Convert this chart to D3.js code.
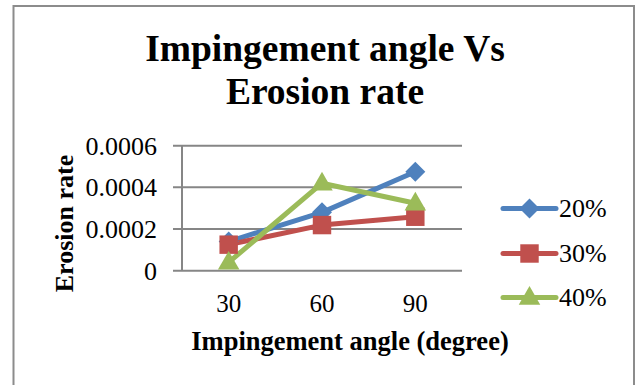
<!DOCTYPE html>
<html><head><meta charset="utf-8">
<script src="https://cdn.jsdelivr.net/npm/d3@7/dist/d3.min.js"></script>
<style>html,body{margin:0;padding:0;background:#fff;}svg{display:block;}</style>
</head><body>
<svg id="chart" width="638" height="385"></svg>
<script>
const categories = ["30", "60", "90"];
const seriesNames = ["20%", "30%", "40%"];
const values20 = [0.00014, 0.00028, 0.000475];
const values30 = [0.000125, 0.000219, 0.000259];
const values40 = [0.00004, 0.00042, 0.000324];
const yTicks = [0, 0.0002, 0.0004, 0.0006];
const yTickLabels = ["0", "0.0002", "0.0004", "0.0006"];
const titleLines = ["Impingement angle Vs", "Erosion rate"];
const xTitle = "Impingement angle (degree)";
const yTitle = "Erosion rate";

// square diamond (equal diagonals), like Excel's marker
const symbolSquareDiamond = {
  draw(context, size) {
    const r = Math.sqrt(size / 2);
    context.moveTo(0, -r); context.lineTo(r, 0); context.lineTo(0, r); context.lineTo(-r, 0); context.closePath();
  }
};

const colors = ["#4f81bd", "#c0504d", "#9bbb59"];
const shapes = [symbolSquareDiamond, d3.symbolSquare, d3.symbolTriangle];
const series = seriesNames.map((n, i) => ({name: n, values: [values20, values30, values40][i], color: colors[i], shape: shapes[i]}));

const font = "'Liberation Serif','Times New Roman',serif";
const svg = d3.select("#chart");

// outer border
svg.append("rect").attr("x", 13.5).attr("y", 6).attr("width", 620.5).attr("height", 400)
  .attr("fill", "#fff").attr("stroke", "#8c8c8c").attr("stroke-width", 2);

// title
const title = svg.append("text").attr("text-anchor", "middle").attr("font-family", font)
  .attr("font-weight", "bold").attr("font-size", 37.5).attr("fill", "#000");
title.append("tspan").attr("x", 325).attr("y", 61).text(titleLines[0]);
title.append("tspan").attr("x", 325).attr("y", 104).text(titleLines[1]);

const pLeft = 182, pRight = 462, pTop = 145.7, pBottom = 270.7;
const x = d3.scalePoint().domain(categories).range([pLeft, pRight]).padding(0.5);
const y = d3.scaleLinear().domain([0, 0.0006]).range([pBottom, pTop]);

// gridlines (with tick extension)
svg.append("g").selectAll("line").data(yTicks).join("line")
  .attr("x1", pLeft - 9).attr("x2", pRight)
  .attr("y1", d => y(d)).attr("y2", d => y(d))
  .attr("stroke", "#868686").attr("stroke-width", 2);
// vertical axis
svg.append("line").attr("x1", pLeft).attr("x2", pLeft).attr("y1", pTop).attr("y2", pBottom)
  .attr("stroke", "#868686").attr("stroke-width", 2);

// y tick labels
svg.append("g").selectAll("text").data(yTicks).join("text")
  .attr("x", 157).attr("y", d => y(d)).attr("dy", "0.34em")
  .attr("text-anchor", "end").attr("font-family", font).attr("font-size", 26)
  .text((d, i) => yTickLabels[i]);

// x tick labels
svg.append("g").selectAll("text").data(categories).join("text")
  .attr("x", d => x(d)).attr("y", 311.5)
  .attr("text-anchor", "middle").attr("font-family", font).attr("font-size", 25)
  .text(d => d);

// axis titles
svg.append("text").attr("x", 350).attr("y", 350).attr("text-anchor", "middle")
  .attr("font-family", font).attr("font-weight", "bold").attr("font-size", 26.5).text(xTitle);
svg.append("text").attr("transform", "translate(73,223.5) rotate(-90)").attr("text-anchor", "middle")
  .attr("font-family", font).attr("font-weight", "bold").attr("font-size", 26).text(yTitle);

// lines and markers
const line = d3.line().x((d, i) => x(categories[i])).y(d => y(d));
series.forEach(s => {
  svg.append("path").datum(s.values).attr("d", line).attr("fill", "none")
    .attr("stroke", s.color).attr("stroke-width", 5).attr("stroke-linejoin", "round").attr("stroke-linecap", "round");
});
function symSize(s) { return s.shape === d3.symbolTriangle ? 200 : (s.shape === d3.symbolSquare ? 340 : 200); }
function symDy(s) { return s.shape === d3.symbolTriangle ? 1 : 0; }
series.forEach(s => {
  const sym = d3.symbol().type(s.shape).size(symSize(s));
  svg.append("g").selectAll("path").data(s.values).join("path")
    .attr("d", sym)
    .attr("transform", (d, i) => `translate(${x(categories[i])},${y(d) + symDy(s)})`)
    .attr("fill", s.color);
});

// legend
const legY = [208.5, 253.5, 297.5];
series.forEach((s, i) => {
  const g = svg.append("g");
  g.append("line").attr("x1", 503).attr("x2", 556).attr("y1", legY[i]).attr("y2", legY[i])
    .attr("stroke", s.color).attr("stroke-width", 5).attr("stroke-linecap", "round");
  g.append("path").attr("d", d3.symbol().type(s.shape).size(symSize(s))())
    .attr("transform", `translate(529.5,${legY[i] + symDy(s)})`).attr("fill", s.color);
  g.append("text").attr("x", 559).attr("y", legY[i]).attr("dy", "0.34em")
    .attr("font-family", font).attr("font-size", 26).text(s.name);
});
</script>
</body></html>
